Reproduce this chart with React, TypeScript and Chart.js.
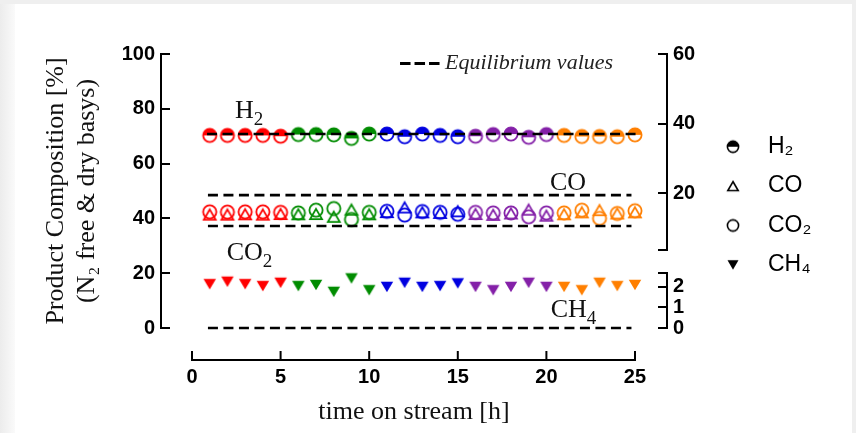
import React, { useEffect, useRef } from 'react';
import { Chart, registerables } from 'chart.js';

Chart.register(...registerables);

// ---------- data ----------
const hours = [1, 2, 3, 4, 5, 6, 7, 8, 9, 10, 11, 12, 13, 14, 15, 16, 17, 18, 19, 20, 21, 22, 23, 24, 25];
const h2 = [70.3, 70.3, 70.3, 70.3, 70.0, 70.6, 70.6, 70.5, 69.2, 70.8, 70.8, 69.8, 70.8, 70.3, 69.8, 70.0, 70.6, 70.8, 69.6, 70.6, 70.3, 69.9, 69.9, 69.8, 70.5];
const co = [41.4, 41.4, 41.5, 41.4, 41.6, 41.5, 41.6, 40.6, 43.2, 41.5, 42.3, 44.0, 42.2, 42.0, 42.6, 41.6, 41.3, 41.8, 43.2, 41.0, 41.5, 42.2, 43.0, 41.8, 42.2];
const co2 = [42.4, 42.3, 42.4, 42.4, 42.2, 42.0, 43.0, 43.6, 39.6, 42.2, 42.6, 41.2, 42.5, 42.2, 41.5, 42.2, 42.0, 42.0, 40.6, 42.0, 42.0, 43.0, 40.0, 41.8, 42.8];
const ch4 = [16.0, 16.9, 16.0, 15.3, 16.5, 15.3, 15.7, 13.2, 18.1, 13.8, 15.0, 16.5, 15.0, 15.3, 16.3, 15.0, 13.8, 15.0, 16.5, 15.0, 15.0, 13.8, 16.5, 15.3, 15.7];

const eqNames = ['H2', 'CO', 'CO2', 'CH4'];
const eqValues = [70.8, 48.5, 37.2, 0];
const eqStart = [0.85, 0.9, 0.9, 0.9];
const eqEnd = [25.2, 24.8, 24.8, 24.8];

const xTicks = [0, 5, 10, 15, 20, 25];
const yTicks = [0, 20, 40, 60, 80, 100];
const rightUpperTicks = [20, 40, 60];
const rightLowerTicks = [0, 1, 2];

const legendLabels = ['H\u2082', 'CO', 'CO\u2082', 'CH\u2084'];
const groupColors = ['#ff0000', '#008c00', '#0000e0', '#8420a8', '#ff7f00'];

// annotation labels [base, subscript] and their positions in data units
const annoText = [['H', '2'], ['CO', ''], ['CO', '2'], ['CH', '4']];
const annoX = [2.43, 20.2, 1.96, 20.24];
const annoY = [76.5, 50.3, 24.8, 4.1];

// ---------- styling ----------
const SANS = '"Liberation Sans", Arial, sans-serif';
const SERIF = '"Liberation Serif", "Times New Roman", serif';
const tickFont = { family: SANS, size: 20, weight: 'bold' as const };

function marker(kind: string, color: string, r: number, lw: number): HTMLCanvasElement {
  const base = Math.ceil(2 * r + lw + 6);
  const S = base + (base % 2);
  const c = document.createElement('canvas');
  c.width = S;
  c.height = S;
  const g = c.getContext('2d')!;
  const cx = S / 2;
  const cy = S / 2;
  g.strokeStyle = color;
  g.fillStyle = color;
  g.lineWidth = lw;
  g.lineJoin = 'miter';
  if (kind === 'half') {
    g.beginPath();
    g.arc(cx, cy, r, Math.PI, 2 * Math.PI);
    g.closePath();
    g.fill();
    g.beginPath();
    g.arc(cx, cy, r, 0, 2 * Math.PI);
    g.stroke();
  } else if (kind === 'circle') {
    g.beginPath();
    g.arc(cx, cy, r, 0, 2 * Math.PI);
    g.stroke();
  } else if (kind === 'tri') {
    const a = r * 0.9;
    const h = a * 1.732;
    g.beginPath();
    g.moveTo(cx, cy - h / 2);
    g.lineTo(cx + a, cy + h / 2);
    g.lineTo(cx - a, cy + h / 2);
    g.closePath();
    g.stroke();
  } else {
    const a = r * 0.95;
    const h = r * 1.6;
    g.beginPath();
    g.moveTo(cx - a, cy - h / 2);
    g.lineTo(cx + a, cy - h / 2);
    g.lineTo(cx, cy + h / 2);
    g.closePath();
    g.fill();
  }
  return c;
}

function drawSub(ctx: CanvasRenderingContext2D, base: string, sub: string, x: number, y: number, size: number) {
  ctx.font = `${size}px ${SERIF}`;
  ctx.fillText(base, x, y);
  if (sub) {
    const w = ctx.measureText(base).width;
    ctx.font = `${Math.round(size * 0.74)}px ${SERIF}`;
    ctx.fillText(sub, x + w, y + size * 0.27);
  }
}

const decorPlugin = {
  id: 'decor',
  afterDatasetsDraw(chart: any) {
    const ctx: CanvasRenderingContext2D = chart.ctx;
    const xs = chart.scales.x;
    const ys = chart.scales.y;
    const area = chart.chartArea;
    ctx.save();
    // detached x axis line with inward ticks
    const yLine = area.bottom + 32;
    ctx.strokeStyle = '#000';
    ctx.lineWidth = 2;
    ctx.lineCap = 'butt';
    ctx.beginPath();
    ctx.moveTo(xs.getPixelForValue(xTicks[0]) - 1, yLine);
    ctx.lineTo(xs.getPixelForValue(xTicks[xTicks.length - 1]) + 1, yLine);
    ctx.stroke();
    xTicks.forEach((v) => {
      const px = xs.getPixelForValue(v);
      ctx.beginPath();
      ctx.moveTo(px, yLine);
      ctx.lineTo(px, yLine - 9);
      ctx.stroke();
    });
    // annotation labels
    ctx.fillStyle = '#111';
    ctx.textAlign = 'left';
    ctx.textBaseline = 'alphabetic';
    annoText.forEach((t, i) => {
      drawSub(ctx, t[0], t[1], xs.getPixelForValue(annoX[i]), ys.getPixelForValue(annoY[i]), 26);
    });
    // equilibrium legend at top
    const ly = ys.getPixelForValue(96.5);
    ctx.setLineDash([10.5, 4]);
    ctx.lineWidth = 3;
    ctx.beginPath();
    ctx.moveTo(xs.getPixelForValue(11.74), ly);
    ctx.lineTo(xs.getPixelForValue(14.0), ly);
    ctx.stroke();
    ctx.setLineDash([]);
    ctx.font = `italic 22px ${SERIF}`;
    ctx.fillStyle = '#222';
    ctx.fillText('Equilibrium values', xs.getPixelForValue(14.28), ys.getPixelForValue(94.5));
    ctx.restore();
  },
};

export default function App() {
  const ref = useRef<HTMLCanvasElement | null>(null);

  useEffect(() => {
    document.body.style.margin = '0';
    const canvas = ref.current;
    if (!canvas) return;

    const groupOf = (i: number) => Math.floor(i / 5);
    const mk = (kind: string) => hours.map((_, i) => marker(kind, groupColors[groupOf(i)], 6.6, 1.8));
    const legendMarkers = [
      marker('half', '#000', 5.6, 1.6),
      marker('tri', '#000', 5.8, 1.6),
      marker('circle', '#000', 5.6, 1.6),
      marker('down', '#000', 5.8, 1.6),
    ];

    const eqSets = eqNames.map((n, i) => ({
      label: 'eq ' + n,
      data: [
        { x: eqStart[i], y: eqValues[i] },
        { x: eqEnd[i], y: eqValues[i] },
      ],
      showLine: true,
      borderColor: '#000',
      borderWidth: 2.6,
      borderDash: [10, 5.5],
      pointRadius: 0,
      clip: false,
    }));

    const pts = (vals: number[]) => hours.map((h, i) => ({ x: h, y: vals[i] }));
    const markerSet = (label: string, vals: number[], kind: string) => ({
      label,
      data: pts(vals),
      showLine: false,
      pointStyle: mk(kind),
      pointRadius: 7,
      borderColor: hours.map((_, i) => groupColors[groupOf(i)]),
      backgroundColor: hours.map((_, i) => groupColors[groupOf(i)]),
      clip: false,
    });

    const rightScaleWidth = 40;
    const pad = '          ';

    const chart = new Chart(canvas, {
      type: 'scatter',
      data: {
        datasets: [
          ...eqSets,
          markerSet('H2', h2, 'half'),
          markerSet('CO', co, 'tri'),
          markerSet('CO2', co2, 'circle'),
          markerSet('CH4', ch4, 'down'),
        ] as any,
      },
      options: {
        responsive: false,
        animation: false,
        events: [],
        layout: { padding: { top: 54, left: 0, right: 29, bottom: 0 } },
        plugins: {
          tooltip: { enabled: false },
          legend: {
            display: true,
            position: 'right',
            fullSize: false,
            align: 'center',
            maxWidth: 120,
            title: { display: true, text: ' ', font: { size: 10, lineHeight: 1 }, padding: { top: 0, bottom: 33.5 } },
            labels: {
              usePointStyle: true,
              pointStyleWidth: 47,
              padding: 2.5,
              color: '#000',
              textAlign: 'left',
              font: { family: SANS, size: 23, lineHeight: '36.9px' as any },
              generateLabels: () =>
                legendLabels.map((t, i) => ({
                  text: [t + pad],
                  pointStyle: legendMarkers[i],
                  fillStyle: '#000',
                  strokeStyle: '#000',
                  lineWidth: 0,
                  hidden: false,
                  fontColor: '#000',
                  textAlign: 'left',
                  datasetIndex: 4 + i,
                })) as any,
            },
          } as any,
        },
        scales: {
          x: {
            type: 'linear',
            position: 'bottom',
            min: -1.749,
            max: 26.806,
            afterBuildTicks: (s: any) => {
              s.ticks = xTicks.map((v) => ({ value: v }));
            },
            afterFit: (s: any) => {
              s.height = 105;
            },
            grid: { display: false, drawTicks: false },
            border: { display: false },
            ticks: { font: tickFont, color: '#000', padding: 37, autoSkip: false, maxRotation: 0 },
            title: {
              display: true,
              text: 'time on stream [h]',
              color: '#111',
              font: { family: SERIF, size: 26, lineHeight: 1.2 },
              padding: { top: 0, bottom: 5.7 },
            },
          },
          y: {
            type: 'linear',
            position: 'left',
            min: 0,
            max: 100,
            afterBuildTicks: (s: any) => {
              s.ticks = yTicks.map((v) => ({ value: v }));
            },
            afterFit: (s: any) => {
              s.width = 161;
            },
            grid: { display: true, drawOnChartArea: false, drawTicks: true, tickLength: -9, color: '#000', lineWidth: 2 },
            border: { display: true, color: '#000', width: 2 },
            ticks: { font: tickFont, color: '#000', padding: 15, autoSkip: false },
            title: {
              display: true,
              text: ['Product Composition [%]', '(N\u2082 free & dry basys)'],
              color: '#111',
              font: { family: SERIF, size: 26, lineHeight: '31px' as any },
              padding: { top: 41, bottom: 0 },
            },
          },
          yR: {
            type: 'linear',
            position: 'right',
            stack: 'right',
            stackWeight: 196,
            min: 3.6,
            max: 60,
            afterBuildTicks: (s: any) => {
              s.ticks = [3.6, ...rightUpperTicks].map((v) => ({ value: v }));
            },
            afterFit: (s: any) => {
              s.width = rightScaleWidth;
            },
            grid: { display: true, drawOnChartArea: false, drawTicks: true, tickLength: -9, color: '#000', lineWidth: 2 },
            border: { display: true, color: '#000', width: 2 },
            ticks: {
              font: tickFont,
              color: '#000',
              padding: 15,
              autoSkip: false,
              callback: (v: any) => (rightUpperTicks.includes(v) ? String(v) : ''),
            },
          },
          yGap: {
            type: 'linear',
            position: 'right',
            stack: 'right',
            stackWeight: 23,
            min: 0,
            max: 1,
            afterFit: (s: any) => {
              s.width = rightScaleWidth;
            },
            grid: { display: false, drawTicks: false },
            border: { display: false },
            ticks: { display: false },
          },
          yC: {
            type: 'linear',
            position: 'right',
            stack: 'right',
            stackWeight: 55,
            min: 0,
            max: 2.66,
            afterBuildTicks: (s: any) => {
              s.ticks = [...rightLowerTicks, 2.66].map((v) => ({ value: v }));
            },
            afterFit: (s: any) => {
              s.width = rightScaleWidth;
            },
            grid: { display: true, drawOnChartArea: false, drawTicks: true, tickLength: -9, color: '#000', lineWidth: 2 },
            border: { display: true, color: '#000', width: 2 },
            ticks: {
              font: tickFont,
              color: '#000',
              padding: 15,
              autoSkip: false,
              callback: (v: any) => (rightLowerTicks.includes(v) ? String(v) : ''),
            },
          },
        } as any,
      },
      plugins: [decorPlugin],
    });

    return () => chart.destroy();
  }, []);

  return (
    <div style={{ position: 'relative', width: 856, height: 433, background: '#efefef', overflow: 'hidden' }}>
      <div
        style={{
          position: 'absolute',
          left: 0,
          top: 4,
          width: 15,
          height: 429,
          background: 'linear-gradient(to right, #ececec, #fafafa)',
        }}
      />
      <div style={{ position: 'absolute', left: 15, top: 4, width: 837, height: 429, background: '#ffffff' }} />
      <canvas ref={ref} width={856} height={433} style={{ position: 'absolute', left: 0, top: 0, width: 856, height: 433 }} />
    </div>
  );
}
